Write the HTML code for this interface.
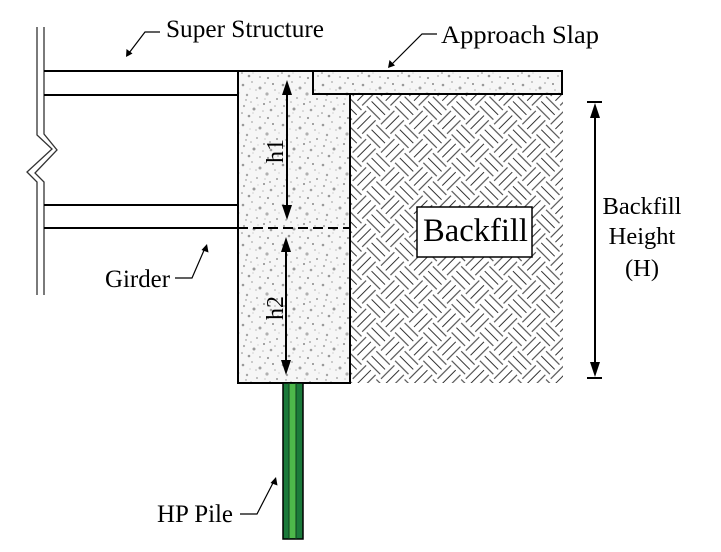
<!DOCTYPE html>
<html>
<head>
<meta charset="utf-8">
<style>
  html,body{margin:0;padding:0;background:#fff;}
  svg{display:block;}
  text{font-family:"Liberation Serif","Times New Roman",serif;fill:#000;}
</style>
</head>
<body>
<svg width="721" height="552" viewBox="0 0 721 552" xmlns="http://www.w3.org/2000/svg">
  <defs>
    <pattern id="conc" patternUnits="userSpaceOnUse" width="40" height="40">
      <rect width="40" height="40" fill="#f6f6f6"/>
      <g>
      <circle cx="3" cy="5" r="1.3" fill="#999"/>
      <circle cx="12" cy="2" r="0.9" fill="#aaa"/>
      <circle cx="20" cy="8" r="1.5" fill="#a0a0a0"/>
      <circle cx="33" cy="4" r="1" fill="#888"/>
      <circle cx="7" cy="15" r="1.2" fill="#a5a5a5"/>
      <circle cx="17" cy="18" r="0.9" fill="#999"/>
      <circle cx="27" cy="14" r="1.6" fill="#b0b0b0"/>
      <circle cx="37" cy="19" r="1" fill="#999"/>
      <circle cx="4" cy="26" r="1.1" fill="#aaa"/>
      <circle cx="14" cy="29" r="1.5" fill="#999"/>
      <circle cx="24" cy="24" r="1" fill="#888"/>
      <circle cx="31" cy="30" r="1.3" fill="#a0a0a0"/>
      <circle cx="38" cy="36" r="0.9" fill="#aaa"/>
      <circle cx="9" cy="36" r="1.3" fill="#999"/>
      <circle cx="20" cy="37" r="0.9" fill="#a5a5a5"/>
      <circle cx="28" cy="38" r="1.1" fill="#999"/>
      <circle cx="2" cy="33" r="0.8" fill="#888"/>
      <circle cx="35" cy="10" r="0.8" fill="#aaa"/>
      <circle cx="16" cy="10" r="0.8" fill="#bbb"/>
      <circle cx="23" cy="31" r="0.8" fill="#bbb"/>
      <circle cx="11" cy="22" r="0.8" fill="#aaa"/>
      <circle cx="30" cy="22" r="0.9" fill="#999"/>
      <circle cx="25" cy="3" r="0.8" fill="#999"/>
      <circle cx="6" cy="20" r="0.7" fill="#888"/>
      <circle cx="35" cy="26" r="0.8" fill="#aaa"/>
      <circle cx="18" cy="25" r="0.6" fill="#bbb"/>
      <circle cx="10" cy="9" r="0.6" fill="#bbb"/>
      <circle cx="39" cy="13" r="0.6" fill="#bbb"/>
      <circle cx="25" cy="19" r="0.6" fill="#aaa"/>
      <circle cx="13" cy="33" r="0.6" fill="#bbb"/>
      </g>
    </pattern>
    <pattern id="weave" patternUnits="userSpaceOnUse" width="40" height="40" patternTransform="translate(350,94) rotate(45)">
      <rect width="40" height="40" fill="#fff"/>
      <g stroke="#333" stroke-width="1">
        <line x1="0.5" y1="3.3" x2="19.5" y2="3.3"/>
        <line x1="0.5" y1="10" x2="19.5" y2="10"/>
        <line x1="0.5" y1="16.7" x2="19.5" y2="16.7"/>
        <line x1="23.3" y1="0.5" x2="23.3" y2="19.5"/>
        <line x1="30" y1="0.5" x2="30" y2="19.5"/>
        <line x1="36.7" y1="0.5" x2="36.7" y2="19.5"/>
        <line x1="3.3" y1="20.5" x2="3.3" y2="39.5"/>
        <line x1="10" y1="20.5" x2="10" y2="39.5"/>
        <line x1="16.7" y1="20.5" x2="16.7" y2="39.5"/>
        <line x1="20.5" y1="23.3" x2="39.5" y2="23.3"/>
        <line x1="20.5" y1="30" x2="39.5" y2="30"/>
        <line x1="20.5" y1="36.7" x2="39.5" y2="36.7"/>
      </g>
    </pattern>
  </defs>

  <rect width="721" height="552" fill="#fff"/>

  <!-- break lines -->
  <polyline points="37,27 37,135 52,149 27,172 37,182 37,295" fill="none" stroke="#333" stroke-width="1.3"/>
  <polyline points="44,27 44,134 57,150 35,173 44,182 44,295" fill="none" stroke="#333" stroke-width="1.3"/>

  <!-- girder lines -->
  <g stroke="#000" stroke-width="2">
    <line x1="44" y1="71" x2="238" y2="71"/>
    <line x1="44" y1="95" x2="238" y2="95"/>
    <line x1="44" y1="205" x2="238" y2="205"/>
    <line x1="44" y1="228" x2="238" y2="228"/>
  </g>

  <!-- backfill -->
  <rect x="350" y="94" width="213" height="289" fill="url(#weave)"/>

  <!-- abutment -->
  <rect x="238" y="71" width="112" height="312" fill="url(#conc)" stroke="#000" stroke-width="2"/>
  <!-- approach slab -->
  <rect x="313" y="71" width="249" height="23" fill="url(#conc)" stroke="#000" stroke-width="2"/>

  <!-- dashed line -->
  <line x1="238" y1="228" x2="350" y2="228" stroke="#000" stroke-width="2" stroke-dasharray="10,5"/>

  <!-- h1 / h2 arrows -->
  <g stroke="#000" stroke-width="2">
    <line x1="287" y1="90" x2="287" y2="210"/>
    <line x1="286" y1="247" x2="286" y2="365"/>
    <line x1="595" y1="112" x2="595" y2="368"/>
    <line x1="587" y1="102" x2="602" y2="102"/>
    <line x1="587" y1="378" x2="602" y2="378"/>
  </g>
  <g fill="#000">
    <polygon points="287,80 282,95 292,95"/>
    <polygon points="287,220 282,205 292,205"/>
    <polygon points="286,237 281,252 291,252"/>
    <polygon points="286,375 281,360 291,360"/>
    <polygon points="595,103 590,118 600,118"/>
    <polygon points="595,377 590,362 600,362"/>
  </g>

  <text transform="translate(283,151) rotate(-90)" font-size="24" text-anchor="middle">h1</text>
  <text transform="translate(283,308) rotate(-90)" font-size="24" text-anchor="middle">h2</text>

  <!-- backfill label -->
  <rect x="417" y="207" width="115" height="50" fill="#fff" stroke="#000" stroke-width="1.5"/>
  <text x="423" y="241" font-size="32.5" textLength="105" lengthAdjust="spacingAndGlyphs">Backfill</text>

  <!-- backfill height label -->
  <text x="642" y="214" font-size="24.5" text-anchor="middle">Backfill</text>
  <text x="642" y="244" font-size="24.5" text-anchor="middle">Height</text>
  <text x="642" y="276" font-size="24.5" text-anchor="middle">(H)</text>

  <!-- pile -->
  <rect x="283" y="383" width="20" height="156" fill="#1b7a3a" stroke="#000" stroke-width="1.5"/>
  <rect x="289" y="384" width="7" height="154" fill="#4db84a"/>
  <line x1="289" y1="383" x2="289" y2="539" stroke="#0d3d1c" stroke-width="1"/>
  <line x1="296" y1="383" x2="296" y2="539" stroke="#0d3d1c" stroke-width="1"/>

  <!-- leaders -->
  <g fill="none" stroke="#000" stroke-width="1.2">
    <polyline points="160,32 145,32 129,53"/>
    <polyline points="437,34 422,34 391,65"/>
    <polyline points="175,278 192,278 205,248"/>
    <polyline points="240,514 257,514 274,481"/>
  </g>
  <g fill="#000">
    <polygon points="126,57 126.5,49 132.5,53.5"/>
    <polygon points="388,68 389.5,60 395,65.5"/>
    <polygon points="207,244 201.5,250 208.5,252.5"/>
    <polygon points="276,477 270.5,483 277.5,485.5"/>
  </g>

  <!-- labels -->
  <text x="166" y="37" font-size="25" textLength="158" lengthAdjust="spacingAndGlyphs">Super Structure</text>
  <text x="441" y="43" font-size="25" textLength="158" lengthAdjust="spacingAndGlyphs">Approach Slap</text>
  <text x="105" y="287" font-size="25" textLength="65" lengthAdjust="spacingAndGlyphs">Girder</text>
  <text x="157" y="522" font-size="25" textLength="76" lengthAdjust="spacingAndGlyphs">HP Pile</text>
</svg>
</body>
</html>
